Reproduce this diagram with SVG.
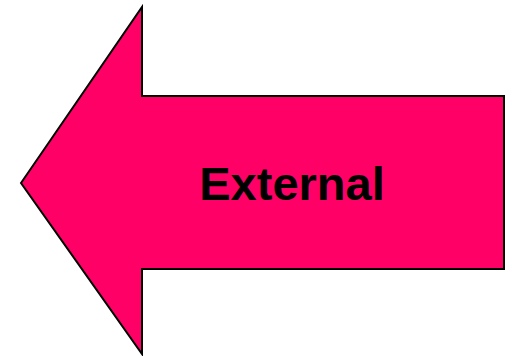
<svg xmlns="http://www.w3.org/2000/svg" width="512" height="356" viewBox="0 0 512 356">
<style>
.arrow{fill:#ff0066;stroke:#000;stroke-width:2;stroke-linejoin:miter}
.lbl{font-family:"Liberation Sans",Arial,sans-serif;font-weight:bold;font-size:47px;fill:#000;text-anchor:middle}
</style>
<rect width="512" height="356" fill="#fff"/>
<g id="external">
<polygon class="arrow" points="21,183 142,7 142,96 504,96 504,269 142,269 142,354"/>
<text class="lbl" x="292" y="200">External</text>
</g>
</svg>
